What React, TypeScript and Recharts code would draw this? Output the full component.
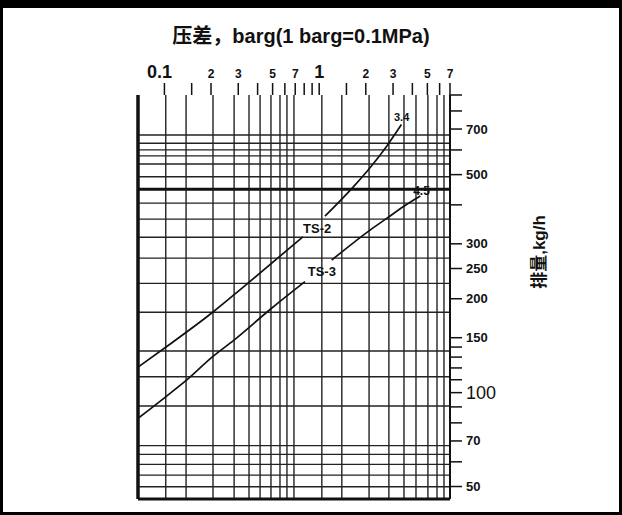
import { LineChart, Line, XAxis, YAxis, ReferenceLine, ReferenceDot } from "recharts";

const FONT = "'Liberation Sans', Arial, 'Noto Sans CJK SC', sans-serif";
const INK = "#111";

// pressure difference, barg (top, log)
const xTicks = [0.1, 0.15, 0.2, 0.3, 0.4, 0.5, 0.6, 0.7, 0.8, 0.9, 1, 1.5, 2, 3, 4, 5, 6, 7];
const xTickLabels: Record<string, string> = {
  "0.1": "0.1", "0.2": "2", "0.3": "3", "0.5": "5", "0.7": "7",
  "1": "1", "2": "2", "3": "3", "5": "5", "7": "7",
};
// the scanned grid does not line up with the ticks, so it has its own values
const xGrid = [0.102, 0.138, 0.206, 0.282, 0.352, 0.415, 0.488, 0.558, 0.619, 0.687, 1.04, 1.4, 2.1, 2.82, 3.53, 4.22, 5.04, 5.77, 6.4];

// capacity, kg/h (right, log)
const yTicks = [50, 60, 70, 80, 90, 100, 110, 120, 130, 140, 150, 200, 250, 300, 400, 500, 600, 700, 800, 900];
const yTickLabels: Record<string, string> = {
  "50": "50", "70": "70", "100": "100", "150": "150", "200": "200",
  "250": "250", "300": "300", "500": "500", "700": "700",
};
const yGrid = [670, 630, 600, 574, 541, 492, 405, 360, 315, 270, 224, 181, 136, 112.5, 90.6, 67.6, 63.4, 58.9, 54.4, 49.9];
const yGridBold = 449;

const X_DOMAIN = [0.0675, 7];
const Y_DOMAIN = [45.6, 900];

// curves, split where the name label sits on the line
const ts2Low = [
  { x: 0.068, y: 121 },
  { x: 0.1024, y: 140 },
  { x: 0.205, y: 181 },
  { x: 0.316, y: 216 },
  { x: 0.786, y: 316 },
];
const ts2High = [
  { x: 1.09, y: 368 },
  { x: 1.65, y: 455 },
  { x: 2.13, y: 526 },
  { x: 2.73, y: 617 },
  { x: 3.4, y: 724 },
];
const ts3Low = [
  { x: 0.0676, y: 82.7 },
  { x: 0.1024, y: 97.1 },
  { x: 0.137, y: 109 },
  { x: 0.205, y: 130.4 },
  { x: 0.2815, y: 147.4 },
  { x: 0.486, y: 185.4 },
  { x: 0.809, y: 226.8 },
];
const ts3High = [
  { x: 1.204, y: 266 },
  { x: 2.13, y: 332 },
  { x: 2.73, y: 362 },
  { x: 3.49, y: 394.6 },
  { x: 4.5, y: 427 },
];

const curveLabels = [
  { x: 0.97, y: 337, text: "TS-2", size: 13 },
  { x: 1.04, y: 245, text: "TS-3", size: 13 },
  { x: 3.41, y: 762, text: "3.4", size: 11 },
  { x: 4.58, y: 445, text: "4.5", size: 12 },
];

function TopTick(props: any) {
  const { x, y, payload } = props;
  const label = xTickLabels[String(payload.value)];
  if (!label) return null;
  const big = label === "0.1" || label === "1";
  return (
    <text x={label === "0.1" ? x - 5 : x} y={y} textAnchor="middle" fontFamily={FONT} fontWeight="bold"
      fontSize={big ? 18 : 12} fill={INK}>
      {label}
    </text>
  );
}

function RightTick(props: any) {
  const { x, y, payload } = props;
  const label = yTickLabels[String(payload.value)];
  if (!label) return null;
  const big = label === "100";
  return (
    <text x={x} y={y} dy="0.35em" textAnchor="start" fontFamily={FONT}
      fontWeight={big ? "normal" : "bold"} fontSize={big ? 18 : 13} fill={INK}>
      {label}
    </text>
  );
}

const curveStyle = { type: "monotone" as const, stroke: INK, strokeWidth: 1.7, dot: false, isAnimationActive: false };

export default function App() {
  return (
    <div style={{ position: "absolute", left: 0, top: 0, width: 622, height: 515, background: "#000" }}>
      <div style={{ position: "absolute", left: 3, top: 8, width: 616, height: 504, background: "#fff" }} />
      <div style={{ position: "absolute", left: 0, top: 0 }}>
        <LineChart width={622} height={515} margin={{ top: 65, right: 112, bottom: 16, left: 138 }}>
          <XAxis dataKey="x" type="number" scale="log" orientation="top" domain={X_DOMAIN} allowDataOverflow
            ticks={xTicks} interval={0} height={30} axisLine={false} tickSize={12} tickMargin={5}
            tickLine={{ stroke: INK, strokeWidth: 1.5 }} tick={<TopTick />} />
          <YAxis type="number" scale="log" orientation="right" domain={Y_DOMAIN} allowDataOverflow
            ticks={yTicks} interval={0} width={60} axisLine={{ stroke: INK, strokeWidth: 2 }} tickSize={12} tickMargin={4}
            tickLine={{ stroke: INK, strokeWidth: 1.5 }} tick={<RightTick />} />

          {xGrid.map((v) => (
            <ReferenceLine key={`gx${v}`} x={v} stroke="#222" strokeWidth={1.4} />
          ))}
          {yGrid.map((v) => (
            <ReferenceLine key={`gy${v}`} y={v} stroke="#222" strokeWidth={1.4} />
          ))}
          <ReferenceLine y={yGridBold} stroke={INK} strokeWidth={3} />
          <ReferenceLine x={X_DOMAIN[0]} stroke={INK} strokeWidth={3.5} />
          <ReferenceLine y={Y_DOMAIN[0]} stroke={INK} strokeWidth={3} />

          <Line data={ts2Low} dataKey="y" {...curveStyle} />
          <Line data={ts2High} dataKey="y" {...curveStyle} />
          <Line data={ts3Low} dataKey="y" {...curveStyle} />
          <Line data={ts3High} dataKey="y" {...curveStyle} />

          {curveLabels.map((l) => (
            <ReferenceDot key={l.text} x={l.x} y={l.y} r={0} fill="none" stroke="none"
              label={{ value: l.text, position: "center", fontFamily: FONT, fontWeight: "bold", fontSize: l.size, fill: INK }} />
          ))}
        </LineChart>
      </div>
      <svg width={622} height={515} style={{ position: "absolute", left: 0, top: 0, pointerEvents: "none" }}>
        <text x={301} y={43} textAnchor="middle" fontFamily={FONT} fontWeight="bold" fontSize={20} fill={INK}>
          压差，barg(1 barg=0.1MPa)
        </text>
        <text x={539} y={252} transform="rotate(-90 539 252)" textAnchor="middle" dominantBaseline="central"
          fontFamily={FONT} fontWeight="bold" fontSize={17} fill={INK}>
          排量,kg/h
        </text>
      </svg>
    </div>
  );
}
